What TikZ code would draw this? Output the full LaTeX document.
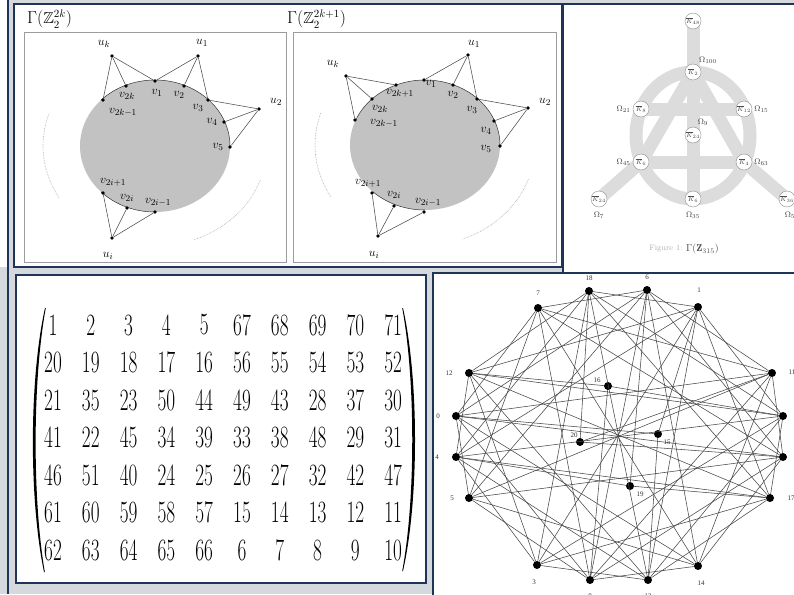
\documentclass[tikz,border=0pt]{standalone}
\usepackage{amsmath,amssymb}
\usepackage{fontspec}
\newfontfamily\graphfont{Liberation Serif}
\usetikzlibrary{positioning}
\definecolor{Frame}{HTML}{1E3557}
\definecolor{Backdrop}{HTML}{D5D9DE}
\definecolor{PanelEdge}{HTML}{9C9C9C}
\definecolor{DiscFill}{HTML}{C2C2C2}
\definecolor{BandGray}{HTML}{DCDCDC}
\definecolor{EdgeGray}{HTML}{474747}
\tikzset{
  frame/.style={draw=Frame, fill=white, line width=2pt},
  subpanel/.style={draw=PanelEdge, line width=0.8pt},
  title/.style={font=\fontsize{16}{16}\selectfont, inner sep=0pt},
  vtx/.style={circle, fill=black, inner sep=0pt, minimum size=3.8pt},
  vlabel/.style={font=\fontsize{13}{13}\selectfont, inner sep=0pt},
  spoke/.style={draw=black!70, line width=0.55pt},
  rim/.style={draw=black!80, line width=0.5pt},
  guide/.style={draw=black!35, densely dotted, line width=0.6pt},
  band/.style={draw=BandGray, line width=13pt},
  knode/.style={circle, draw=black!45, fill=white, line width=0.4pt, minimum size=16pt,
    inner sep=0pt, font=\fontsize{6}{6}\selectfont, text=black!70},
  omega/.style={font=\fontsize{8}{8}\selectfont, inner sep=0pt, text=black!75},
  entry/.style={inner sep=0pt, font=\fontsize{31}{31}\selectfont},
  gdot/.style={circle, fill=black, inner sep=0pt, minimum size=8pt},
  gedge/.style={draw=EdgeGray, line width=0.55pt},
  glabel/.style={font=\graphfont\fontsize{7}{7}\selectfont, inner sep=0pt, text=black!80},
}

\begin{document}
\begin{tikzpicture}[x=1pt, y=-1pt]
  \useasboundingbox (0,0) rectangle (794,594);
  % backdrop and panel frames
  \fill[Backdrop] (0,0) rectangle (794,594);
  \fill[white] (0,0) rectangle (7,267);
  \draw[Frame, line width=1.6pt] (8,0) -- (8,594);
  \draw[frame] (13.5,3.8) rectangle (562,266.5);
  \draw[frame] (563,3.8) rectangle (800,273.2);
  \draw[frame] (432.8,273.2) rectangle (800,600);
  \draw[frame] (16.2,274.8) rectangle (425.6,583.4);

  % ---- Gamma(Z_2^{2k}) ----
  \draw[subpanel] (24,32) rectangle (286.5,262.5);
  \node[title, anchor=west] (titleA) at (27,19) {$\Gamma(\mathbb{Z}_2^{2k})$};
  \fill[DiscFill] (155,146) ellipse [x radius=75, y radius=66];
  \draw[rim] (155,146) ++(-136:75 and 66) arc[start angle=-136, end angle=2, x radius=75, y radius=66];
  \draw[rim] (155,146) ++(136:75 and 66) arc[start angle=136, end angle=90, x radius=75, y radius=66];
  \draw[guide] (155,146) ++(149:112 and 100) arc[start angle=149, end angle=199, x radius=112, y radius=100];
  \draw[guide] (155,146) ++(20:112 and 100) arc[start angle=20, end angle=70, x radius=112, y radius=100];
  \foreach \name/\x/\y in {uk/112/56, u1/198/56, u2/259/109, ui/112/238,
      v1/155/81, v2/184/86, v3/208/100, v4/224/122, v5/230/147,
      vk/126/86, vkm/103/100, vip/103/193, vi/127/208, vim/155/212}
    \node[vtx] (a\name) at (\x,\y) {};
  \foreach \a/\b in {uk/vkm, uk/vk, uk/v1, u1/v1, u1/v2, u1/v3, u2/v3, u2/v4, u2/v5,
      ui/vip, ui/vi, ui/vim}
    \draw[spoke] (a\a) -- (a\b);
  \node[vlabel] (la-uk) at (104,44) {$u_k$};
  \node[vlabel] (la-u1) at (202,43) {$u_1$};
  \node[vlabel] (la-u2) at (276,102) {$u_2$};
  \node[vlabel] (la-ui) at (108,256) {$u_i$};
  \node[vlabel] (la-v1) at (157,93) {$v_1$};
  \node[vlabel] (la-v2) at (179,95) {$v_2$};
  \node[vlabel] (la-v3) at (198,108) {$v_3$};
  \node[vlabel] (la-v4) at (212,122) {$v_4$};
  \node[vlabel] (la-v5) at (218,147) {$v_5$};
  \node[vlabel] (la-vk) at (127,96) {$v_{2k}$};
  \node[vlabel] (la-vkm) at (123,112) {$v_{2k-1}$};
  \node[vlabel] (la-vip) at (113,182) {$v_{2i+1}$};
  \node[vlabel] (la-vi) at (127,198) {$v_{2i}$};
  \node[vlabel] (la-vim) at (158,202) {$v_{2i-1}$};

  % ---- Gamma(Z_2^{2k+1}) ----
  \draw[subpanel] (293.5,32) rectangle (556,262.5);
  \node[title, anchor=west] (titleB) at (287,19) {$\Gamma(\mathbb{Z}_2^{2k+1})$};
  \fill[DiscFill] (425,145) ellipse [x radius=75, y radius=65];
  \draw[rim] (425,145) ++(-158:75 and 65) arc[start angle=-158, end angle=2, x radius=75, y radius=65];
  \draw[rim] (425,145) ++(134:75 and 65) arc[start angle=134, end angle=90, x radius=75, y radius=65];
  \draw[guide] (425,145) ++(149:110 and 100) arc[start angle=149, end angle=199, x radius=110, y radius=100];
  \draw[guide] (425,145) ++(20:110 and 100) arc[start angle=20, end angle=70, x radius=110, y radius=100];
  \foreach \name/\x/\y in {uk/346/76, u1/468/55, u2/528/108, ui/378/236,
      v1/424/80, v2/453/85, v3/477/99, v4/494/121, v5/500/146,
      vkp/396/85, vk/372/99, vkm/355/120, vip/372/193, vi/394/206, vim/424/212}
    \node[vtx] (b\name) at (\x,\y) {};
  \foreach \a/\b in {uk/vkp, uk/vk, uk/vkm, u1/v1, u1/v2, u1/v3, u2/v3, u2/v4, u2/v5,
      ui/vip, ui/vi, ui/vim}
    \draw[spoke] (b\a) -- (b\b);
  \node[vlabel] (lb-uk) at (333,64) {$u_k$};
  \node[vlabel] (lb-u1) at (474,44) {$u_1$};
  \node[vlabel] (lb-u2) at (545,102) {$u_2$};
  \node[vlabel] (lb-ui) at (374,255) {$u_i$};
  \node[vlabel] (lb-v1) at (431,84) {$v_1$};
  \node[vlabel] (lb-v2) at (453,95) {$v_2$};
  \node[vlabel] (lb-v3) at (472,110) {$v_3$};
  \node[vlabel] (lb-v4) at (486,131) {$v_4$};
  \node[vlabel] (lb-v5) at (486,149) {$v_5$};
  \node[vlabel] (lb-vkp) at (400,93) {$v_{2k+1}$};
  \node[vlabel] (lb-vk) at (380,109) {$v_{2k}$};
  \node[vlabel] (lb-vkm) at (384,123) {$v_{2k-1}$};
  \node[vlabel] (lb-vip) at (368,183) {$v_{2i+1}$};
  \node[vlabel] (lb-vi) at (394,195) {$v_{2i}$};
  \node[vlabel] (lb-vim) at (428,202) {$v_{2i-1}$};

  % ---- Gamma(Z_315) ----
  \coordinate (kTop) at (693,21);
  \coordinate (kApex) at (693,72);
  \coordinate (kUL) at (641,109);
  \coordinate (kUR) at (744,109);
  \coordinate (kMid) at (693,135);
  \coordinate (kLL) at (641,162);
  \coordinate (kLR) at (744,162);
  \coordinate (kFarL) at (599,199);
  \coordinate (kBot) at (693,199);
  \coordinate (kFarR) at (787,199);
  \draw[band] (693,135.5) ellipse [x radius=57, y radius=63.5];
  \draw[band] (kTop) -- (kBot);
  \draw[band] (kUL) -- (kUR);
  \draw[band] (kLL) -- (kLR);
  \draw[band] (kApex) -- (kLL) -- (kFarL);
  \draw[band] (kApex) -- (kLR) -- (kFarR);
  \node[knode] (nTop) at (kTop) {$\overline{K}_{48}$};
  \node[knode] (nApex) at (kApex) {$\overline{K}_{2}$};
  \node[knode] (nUL) at (kUL) {$\overline{K}_{8}$};
  \node[knode] (nUR) at (kUR) {$\overline{K}_{12}$};
  \node[knode] (nMid) at (kMid) {$\overline{K}_{24}$};
  \node[knode] (nLL) at (kLL) {$\overline{K}_{6}$};
  \node[knode] (nLR) at (kLR) {$\overline{K}_{4}$};
  \node[knode] (nFarL) at (kFarL) {$\overline{K}_{24}$};
  \node[knode] (nBot) at (kBot) {$\overline{K}_{6}$};
  \node[knode] (nFarR) at (kFarR) {$\overline{K}_{36}$};
  \node[omega] (oApex) at (708,60) {$\Omega_{100}$};
  \node[omega, left=2pt of nUL] (oUL) {$\Omega_{21}$};
  \node[omega, right=2pt of nUR] (oUR) {$\Omega_{15}$};
  \node[omega] (oMid) at (703,122) {$\Omega_{9}$};
  \node[omega, left=2pt of nLL] (oLL) {$\Omega_{45}$};
  \node[omega, right=2pt of nLR] (oLR) {$\Omega_{63}$};
  \node[omega, below=5pt of nFarL] (oFarL) {$\Omega_{7}$};
  \node[omega, below=5pt of nBot] (oBot) {$\Omega_{35}$};
  \node[omega, below=5pt of nFarR, xshift=3pt] (oFarR) {$\Omega_{5}$};
  \node[font=\fontsize{8}{8}\selectfont, text=black!30, inner sep=0pt] (capA) at (666,249) {Figure 1:};
  \node[font=\fontsize{10}{10}\selectfont, text=black!70, inner sep=0pt, right=3pt of capA] (capB)
    {$\Gamma(\mathbf{Z}_{315})$};

  % ---- matrix ----
  \foreach \row [count=\r] in {{1,2,3,4,5,67,68,69,70,71},
      {20,19,18,17,16,56,55,54,53,52},
      {21,35,23,50,44,49,43,28,37,30},
      {41,22,45,34,39,33,38,48,29,31},
      {46,51,40,24,25,26,27,32,42,47},
      {61,60,59,58,57,15,14,13,12,11},
      {62,63,64,65,66,6,7,8,9,10}}
    \foreach \n [count=\c] in \row
      \node[entry] (m-\r-\c) at ({53+(\c-1)*37.8}, {325+(\r-1)*37.5}) {\scalebox{0.62}[1]{\n}};
  \fill (45,308) .. controls (29,380) and (29,500) .. (44,572)
    -- (44.8,572) .. controls (32.4,500) and (32.4,380) .. (45.8,308) -- cycle;
  \fill (403,308) .. controls (419,380) and (419,500) .. (403,571)
    -- (402.2,571) .. controls (415.6,500) and (415.6,380) .. (402.2,308) -- cycle;

  % ---- graph on 21 vertices ----
  \foreach \name/\x/\y in {18/589/291, 6/647/290, 1/698/307, 11/772/373, A/783/416,
      B/783/457, 17/770/498, 14/698/566, 13/648/580, 8/590/580, 3/537/565,
      5/469/498, 4/456/457, 0/456/416, 12/469/373, 7/538/308,
      16/608/386, 20/580/442, 15/658/434, 19/630/486}
    \node[gdot] (g\name) at (\x,\y) {};
  \foreach \a/\b in {18/1, 6/11, 1/A, 11/B, A/17, B/14, 17/13, 14/8, 13/3, 8/5, 3/4, 5/0,
      4/12, 0/7, 12/18, 7/6,
      18/A, 6/B, 1/17, 11/14, A/13, B/8, 17/3, 14/5, 13/4, 8/0, 3/12, 5/7,
      4/18, 0/6, 12/1, 7/11,
      18/17, 6/14, 1/13, 11/8, A/3, B/5, 17/4, 14/0, 13/12, 8/7, 3/18, 5/6, 4/1, 0/11,
      12/A, 7/B,
      18/13, 6/8, 1/3, 11/5, A/4, B/0, 17/12, 14/7,
      16/12, 16/A, 16/8, 20/18, 20/11, 20/B, 15/0, 15/1, 15/13, 19/6, 19/4, 19/17}
    \draw[gedge] (g\a) -- (g\b);
  \node[glabel] (l18) at (589,278) {18};
  \node[glabel] (l6) at (647,277) {6};
  \node[glabel] (l1) at (699,290) {1};
  \node[glabel] (l7) at (538,293) {7};
  \node[glabel] (l12) at (449,373) {12};
  \node[glabel] (l0) at (438,416) {0};
  \node[glabel] (l4) at (437,457) {4};
  \node[glabel] (l5) at (452,498) {5};
  \node[glabel] (l3) at (534,582) {3};
  \node[glabel] (l8) at (590,596) {8};
  \node[glabel] (l13) at (648,596) {13};
  \node[glabel] (l14) at (701,583) {14};
  \node[glabel] (l17) at (791,498) {17};
  \node[glabel] (l11) at (792,372) {11};
  \node[glabel] (l16) at (597,380) {16};
  \node[glabel] (l20) at (574,435) {20};
  \node[glabel] (l15) at (667,442) {15};
  \node[glabel] (l19) at (640,494) {19};
\end{tikzpicture}
\end{document}
